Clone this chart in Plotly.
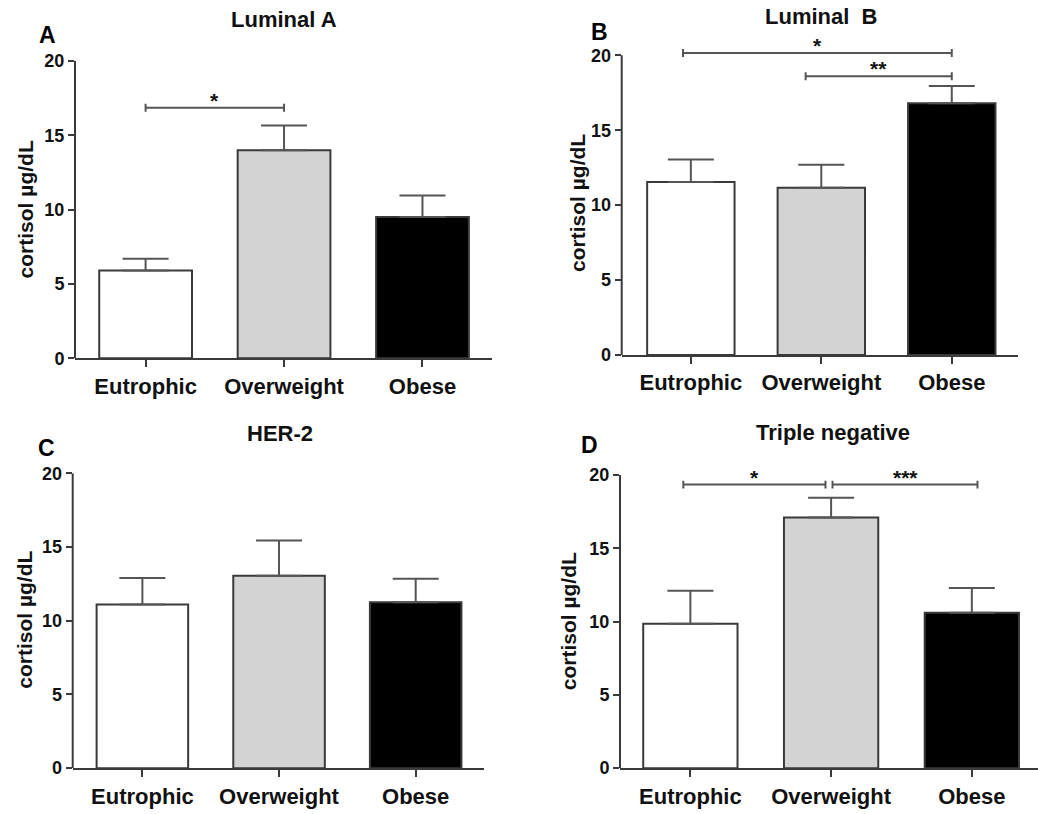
import plotly.graph_objects as go

# ---------------- data ----------------
categories = ["Eutrophic", "Overweight", "Obese"]
panel_titles = ["Luminal A", "Luminal  B", "HER-2", "Triple negative"]
panel_letters = ["A", "B", "C", "D"]
y_title = "cortisol µg/dL"
y_ticks = [0, 5, 10, 15, 20]

mean_luminal_a = [5.9, 14.0, 9.5]
sem_luminal_a = [0.8, 1.65, 1.45]
mean_luminal_b = [11.55, 11.15, 16.8]
sem_luminal_b = [1.5, 1.55, 1.15]
mean_her2 = [11.1, 13.05, 11.25]
sem_her2 = [1.8, 2.4, 1.6]
mean_triple_neg = [9.85, 17.1, 10.6]
sem_triple_neg = [2.25, 1.35, 1.7]

# significance brackets: (start position, end position, height, label)
sig_luminal_a = [(0.0, 1.0, 16.85, "*")]
sig_luminal_b = [(-0.06, 2.0, 20.15, "*"), (0.88, 2.0, 18.6, "**")]
sig_her2 = []
sig_triple_neg = [(-0.05, 0.96, 19.35, "*"), (1.01, 2.04, 19.35, "***")]

means = [mean_luminal_a, mean_luminal_b, mean_her2, mean_triple_neg]
sems = [sem_luminal_a, sem_luminal_b, sem_her2, sem_triple_neg]
sigs = [sig_luminal_a, sig_luminal_b, sig_her2, sig_triple_neg]

# ---------------- layout geometry (pixels) ----------------
W, H = 1038, 814
Y_MAX = 22.0
geom = [
    dict(x0=75.0, x1=491.7, yb=362.7, y20=61.7, xr=(-0.51, 2.5),
         title=(283.5, 20), letter=(47.5, 35), ytitle=(25.5, 212.5)),
    dict(x0=621.7, x1=1018.3, yb=359.3, y20=56.0, xr=(-0.53, 2.51),
         title=(821, 17), letter=(599.5, 32), ytitle=(577.5, 206)),
    dict(x0=72.7, x1=484.0, yb=777.7, y20=479.3, xr=(-0.51, 2.5),
         title=(280, 439), letter=(46, 454), ytitle=(25, 627.5)),
    dict(x0=620.0, x1=1038.0, yb=777.7, y20=481.0, xr=(-0.5, 2.47),
         title=(832.5, 438), letter=(589, 451), ytitle=(568, 629)),
]

FONT = "Liberation Sans, Arial, sans-serif"
AXIS_COL = "#3a3a3a"
ERR_COL = "#555555"
TXT_COL = "#111111"
bar_colors = ["#ffffff", "#d3d3d3", "#000000"]


def px(x):
    return x / W


def py(y):
    return 1 - y / H


fig = go.Figure()
shapes = []
annotations = []
layout_axes = {}

for i in range(4):
    g = geom[i]
    sfx = "" if i == 0 else str(i + 1)
    xa, ya = "x" + sfx, "y" + sfx
    top_px = g["yb"] - (Y_MAX / 20.0) * (g["yb"] - g["y20"])

    fig.add_trace(go.Bar(
        x=[0, 1, 2], y=means[i], width=0.67,
        marker=dict(color=bar_colors, line=dict(color=AXIS_COL, width=2)),
        error_y=dict(type="data", symmetric=False, array=sems[i],
                     arrayminus=[0, 0, 0], color=ERR_COL, thickness=2, width=23),
        xaxis=xa, yaxis=ya, showlegend=False, hoverinfo="skip",
    ))

    layout_axes["xaxis" + sfx] = dict(
        domain=[px(g["x0"]), px(g["x1"])], range=list(g["xr"]), anchor=ya,
        showline=True, linecolor=AXIS_COL, linewidth=2, mirror=False,
        ticks="outside", ticklen=7, tickwidth=2, tickcolor=AXIS_COL,
        tickvals=[0, 1, 2], ticktext=categories,
        tickfont=dict(family=FONT, size=22, color=TXT_COL, weight="bold"),
        showgrid=False, zeroline=False, fixedrange=True,
    )
    layout_axes["yaxis" + sfx] = dict(
        domain=[py(g["yb"]), py(top_px)], range=[0, Y_MAX], anchor=xa,
        showline=False, ticks="outside", ticklen=6, tickwidth=2, tickcolor=AXIS_COL,
        tickvals=y_ticks, ticktext=[str(v) for v in y_ticks],
        tickfont=dict(family=FONT, size=18, color=TXT_COL, weight="bold"),
        showgrid=False, zeroline=False, fixedrange=True,
    )

    # y axis line from 0 to 20 only
    shapes.append(dict(type="line", xref=xa + " domain", yref=ya,
                       x0=0, x1=0, y0=0, y1=y_ticks[-1],
                       line=dict(color=AXIS_COL, width=2)))

    # significance brackets
    for (b0, b1, h, lab) in sigs[i]:
        shapes.append(dict(type="line", xref=xa, yref=ya, x0=b0, x1=b1, y0=h, y1=h,
                           line=dict(color=ERR_COL, width=2)))
        for bx in (b0, b1):
            shapes.append(dict(type="line", xref=xa, yref=ya, x0=bx, x1=bx,
                               y0=h - 0.27, y1=h + 0.27,
                               line=dict(color=ERR_COL, width=2)))
        annotations.append(dict(xref=xa, yref=ya, x=(b0 + b1) / 2, y=h, text=lab,
                                showarrow=False, xanchor="center", yanchor="bottom",
                                yshift=-6,
                                font=dict(family=FONT, size=21, color=TXT_COL, weight="bold")))

    # title, letter, y title
    annotations.append(dict(xref="paper", yref="paper", x=px(g["title"][0]), y=py(g["title"][1]),
                            text=panel_titles[i], showarrow=False, xanchor="center", yanchor="middle",
                            font=dict(family=FONT, size=22, color=TXT_COL, weight="bold")))
    annotations.append(dict(xref="paper", yref="paper", x=px(g["letter"][0]), y=py(g["letter"][1]),
                            text=panel_letters[i], showarrow=False, xanchor="center", yanchor="middle",
                            font=dict(family=FONT, size=23, color="#000000", weight="bold")))
    annotations.append(dict(xref="paper", yref="paper", x=px(g["ytitle"][0]), y=py(g["ytitle"][1]),
                            text=y_title, showarrow=False, xanchor="center", yanchor="middle",
                            textangle=-90,
                            font=dict(family=FONT, size=21, color=TXT_COL, weight="bold")))

fig.update_layout(
    width=W, height=H,
    margin=dict(l=0, r=0, t=0, b=0),
    paper_bgcolor="white", plot_bgcolor="white",
    bargap=0.33,
    shapes=shapes, annotations=annotations,
    **layout_axes,
)

fig.write_html("out.html", config={"displayModeBar": False})
